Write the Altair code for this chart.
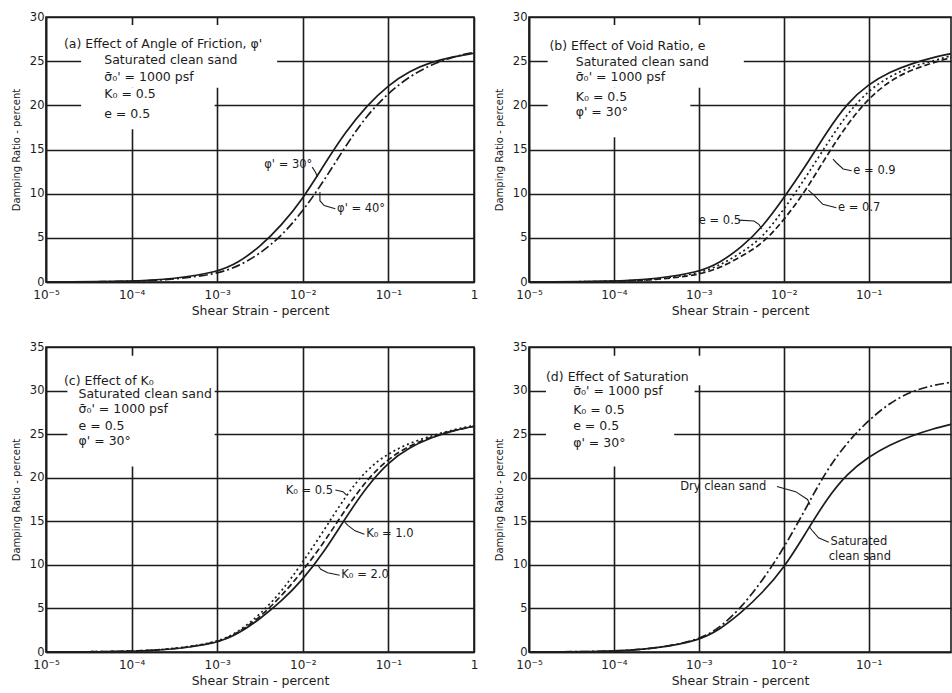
import altair as alt
import pandas as pd

# ---------------- data ----------------
strain = [1e-5, 1e-4, 3.16e-4, 1e-3, 1.78e-3, 3.16e-3, 5.62e-3, 1e-2, 1.78e-2,
          3.16e-2, 5.62e-2, 1e-1, 1.78e-1, 3.16e-1, 5.62e-1, 1.0]

a_phi30 = [0, 0.05, 0.35, 1.1, 2.2, 4.0, 6.4, 9.4, 13.3, 17.0, 20.0, 22.3, 23.9, 24.9, 25.5, 25.9]
a_phi40 = [0, 0.03, 0.3, 0.9, 1.8, 3.2, 5.2, 8.0, 11.5, 15.4, 18.9, 21.4, 23.3, 24.6, 25.5, 26.0]
b_e05 = [0, 0.05, 0.35, 1.1, 2.2, 3.9, 6.2, 9.5, 13.0, 16.9, 20.3, 22.4, 23.8, 24.7, 25.4, 25.9]
b_e07 = [0, 0.04, 0.3, 0.95, 1.9, 3.3, 5.0, 8.2, 11.7, 15.5, 19.1, 21.7, 23.3, 24.4, 25.0, 25.7]
b_e09 = [0, 0.03, 0.25, 0.8, 1.6, 2.9, 4.3, 7.0, 10.2, 14.2, 17.9, 20.8, 22.8, 24.0, 24.8, 25.5]
c_k05 = [0, 0.05, 0.35, 1.1, 2.3, 4.3, 6.9, 10.3, 14.0, 17.9, 21.0, 22.8, 24.0, 24.8, 25.5, 26.0]
c_k10 = [0, 0.05, 0.33, 1.05, 2.2, 4.0, 6.4, 9.3, 12.6, 16.4, 19.8, 22.2, 23.7, 24.7, 25.4, 25.9]
c_k20 = [0, 0.05, 0.3, 1.0, 2.1, 3.8, 5.8, 8.3, 11.5, 15.4, 19.0, 21.8, 23.5, 24.6, 25.4, 25.9]
d_sat = [0, 0.05, 0.4, 1.3, 2.6, 4.5, 6.8, 9.6, 13.5, 17.5, 20.5, 22.4, 23.8, 24.8, 25.6, 26.2]
d_dry = [0, 0.05, 0.4, 1.35, 2.8, 5.1, 8.2, 11.9, 16.3, 20.8, 24.1, 26.6, 28.6, 29.9, 30.6, 31.0]

x_tick_values = [1e-5, 1e-4, 1e-3, 1e-2, 1e-1, 1]
x_tick_labels = ["10⁻⁵", "10⁻⁴", "10⁻³", "10⁻²", "10⁻¹", "1"]

notes_a = ["(a) Effect of Angle of Friction, φ'", "Saturated clean sand",
           "σ̄₀' = 1000 psf", "K₀ = 0.5", "e = 0.5"]
notes_b = ["(b) Effect of Void Ratio, e", "Saturated clean sand",
           "σ̄₀' = 1000 psf", "K₀ = 0.5", "φ' = 30°"]
notes_c = ["(c) Effect of K₀", "Saturated clean sand",
           "σ̄₀' = 1000 psf", "e = 0.5", "φ' = 30°"]
notes_d = ["(d) Effect of Saturation", "σ̄₀' = 1000 psf",
           "K₀ = 0.5", "e = 0.5", "φ' = 30°"]

# ---------------- annotation placement (log10 strain, damping) ----------------
INK = "#1c1c1c"
FONT = "DejaVu Sans"


def lx(v):
    return 10 ** v


def note_df(texts, tx, lxpos, ys):
    rows = []
    for i, (t, yv) in enumerate(zip(texts, ys)):
        rows.append({"x": lx(tx if i == 0 else lxpos), "y": yv, "t": t})
    return rows


def label_rows(items):
    return [{"x": lx(a), "y": b, "t": t} for (t, a, b) in items]


def leader_rows(leads):
    rows = []
    for i, pts in enumerate(leads):
        for k, (a, b) in enumerate(pts):
            rows.append({"x": lx(a), "y": b, "id": i, "k": k})
    return rows


def box_rows(boxes):
    return [{"x": lx(a), "x2": lx(b), "y": c, "y2": d} for (a, b, c, d) in boxes]


label_expr = "[" + ",".join("'%s'" % s for s in x_tick_labels) + "][round(log(datum.value)/LN10)+5]"


def panel(curves, boxes, notes, labels, leads, ymax, xmax, w, h):
    xs = alt.Scale(type="log", domain=[1e-5, xmax], nice=False)
    ys = alt.Scale(domain=[0, ymax], nice=False)
    xax = alt.Axis(values=x_tick_values, labelExpr=label_expr,
                   title="Shear Strain - percent", titleFontSize=12.5,
                   labelFontSize=12,
                   grid=True, ticks=False, labelPadding=7, titlePadding=4,
                   labelFlush=False, labelOverlap=False)
    yax = alt.Axis(values=list(range(0, ymax + 1, 5)),
                   title="Damping Ratio - percent", titleFontSize=10,
                   labelFontSize=11.5,
                   grid=True, ticks=False, labelPadding=2, titlePadding=8)
    X = alt.X("x:Q", scale=xs, axis=xax)
    Y = alt.Y("y:Q", scale=ys, axis=yax)

    layers = [alt.Chart(pd.DataFrame(box_rows(boxes))).mark_rect(fill="white")
              .encode(x=X, x2="x2:Q", y=Y, y2="y2:Q")]
    for vals, dash in curves:
        df = pd.DataFrame({"x": strain, "y": vals})
        kw = dict(color=INK, strokeWidth=1.7, interpolate="basis", clip=True)
        if dash:
            kw["strokeDash"] = dash
        layers.append(alt.Chart(df).mark_line(**kw).encode(x=X, y=Y))
    layers.append(alt.Chart(pd.DataFrame(leader_rows(leads)))
                  .mark_line(color=INK, strokeWidth=1.1, clip=True)
                  .encode(x=X, y=Y, detail="id:N", order="k:Q"))
    layers.append(alt.Chart(pd.DataFrame(notes))
                  .mark_text(align="left", baseline="middle", font=FONT,
                             fontSize=12.5, color=INK)
                  .encode(x=X, y=Y, text="t:N"))
    layers.append(alt.Chart(pd.DataFrame(labels))
                  .mark_text(align="left", baseline="middle", font=FONT,
                             fontSize=11.5, color=INK)
                  .encode(x=X, y=Y, text="t:N"))
    return alt.layer(*layers).properties(width=w, height=h)


DASHDOT = [9, 3, 2, 3]
DOT = [2, 3]
DASH = [6, 3]

pa = panel(
    [(a_phi30, None), (a_phi40, DASHDOT)],
    [(-4.59, -2.05, 25.6, 29.1), (-4.59, -2.3, 22, 25.6), (-4.59, -3.03, 17.3, 22)],
    note_df(notes_a, -4.79, -4.32, [27.0, 25.1, 23.2, 21.3, 19.0]),
    label_rows([("φ' = 30°", -2.45, 13.2), ("φ' = 40°", -1.60, 8.3)]),
    [[(-1.89, 13.0), (-1.85, 12.4), (-1.83, 11.9)],
     [(-1.62, 8.3), (-1.75, 8.65), (-1.80, 9.2), (-1.80, 10.2)]],
    30, 1.0, 428, 265)

pb = panel(
    [(b_e05, None), (b_e07, DOT), (b_e09, DASH)],
    [(-4.78, -2.47, 22, 29.1), (-4.78, -3.1, 16.4, 22)],
    note_df(notes_b, -4.76, -4.45, [26.7, 24.9, 23.2, 21.0, 19.3]),
    label_rows([("e = 0.5", -3.0, 6.9), ("e = 0.9", -1.18, 12.6), ("e = 0.7", -1.36, 8.4)]),
    [[(-2.53, 7.0), (-2.35, 6.9), (-2.29, 6.5), (-2.26, 6.0)],
     [(-1.20, 12.6), (-1.30, 12.8), (-1.38, 13.5), (-1.42, 13.9)],
     [(-1.38, 8.4), (-1.54, 8.8), (-1.64, 9.8), (-1.71, 10.4)]],
    30, 10 ** -0.03, 422, 265)

pc = panel(
    [(c_k05, DOT), (c_k10, DASH), (c_k20, None)],
    [(-4.75, -3.03, 21.3, 34.0)],
    note_df(notes_c, -4.79, -4.62, [31.1, 29.6, 27.9, 25.9, 24.2]),
    label_rows([("K₀ = 0.5", -2.2, 18.5), ("K₀ = 1.0", -1.26, 13.5), ("K₀ = 2.0", -1.55, 8.8)]),
    [[(-1.62, 18.6), (-1.53, 18.4), (-1.49, 18.0)],
     [(-1.28, 13.5), (-1.39, 13.9), (-1.47, 14.5), (-1.51, 14.9)],
     [(-1.57, 8.8), (-1.71, 9.1), (-1.79, 9.5), (-1.82, 9.9)]],
    35, 1.0, 428, 305)

pd_ = panel(
    [(d_sat, None), (d_dry, DASHDOT)],
    [(-4.8, -2.8, 30.6, 34.0), (-4.8, -3.05, 27.5, 30.6), (-4.8, -3.29, 21.3, 27.5)],
    note_df(notes_d, -4.8, -4.48, [31.6, 29.9, 27.8, 25.9, 24.0]),
    label_rows([("Dry clean sand", -3.22, 18.9), ("Saturated", -1.45, 12.6),
                ("clean sand", -1.47, 10.9)]),
    [[(-2.08, 19.0), (-1.86, 18.4), (-1.72, 17.5), (-1.69, 16.9)],
     [(-1.47, 12.6), (-1.59, 13.1), (-1.67, 14.0), (-1.70, 14.4)]],
    35, 10 ** -0.03, 422, 305)

row1 = alt.hconcat(pa, pb, spacing=14)
row2 = alt.hconcat(pc, pd_, spacing=14)

chart = (
    alt.vconcat(row1, row2, spacing=22)
    .properties(padding={"left": 10, "top": 10, "right": 0, "bottom": 0},
                background="white")
    .configure_view(stroke=INK, strokeWidth=1.6)
    .configure_axis(labelFont=FONT, titleFont=FONT,
                    labelColor=INK, titleColor=INK, titleFontWeight="normal",
                    gridColor=INK, gridWidth=1.6, gridOpacity=1,
                    domainColor=INK, domainWidth=1.6)
)

chart.save("out.html", embed_options={"renderer": "svg", "actions": False})
